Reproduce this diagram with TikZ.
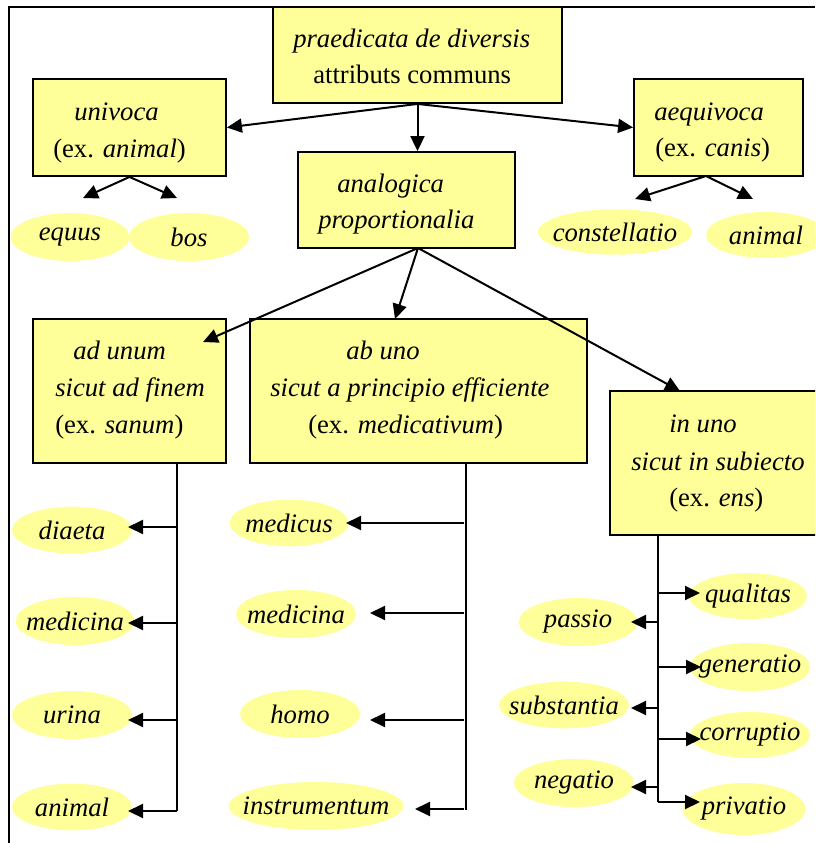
\documentclass[tikz,border=0pt]{standalone}
\usepackage{fontspec}
\setmainfont{Liberation Serif}
\usetikzlibrary{arrows.meta,fit,shapes.geometric}
\definecolor{boxyellow}{HTML}{FFFF99}
\definecolor{ovalyellow}{HTML}{FFFF99}
% zero-width label so the oval keeps its own size
\newcommand\ovtext[1]{\makebox[0pt]{#1}}

\begin{document}
\begin{tikzpicture}[x=0.75pt,y=-0.75pt,
  box/.style={draw=black,line width=1.4pt,fill=boxyellow,inner sep=0pt},
  oval/.style={ellipse,fill=ovalyellow,inner sep=0pt,
    font=\fontsize{20}{24}\selectfont\itshape},
  lbl/.style={anchor=west,inner sep=0pt,text height=14pt,text depth=4pt,
    font=\fontsize{20}{24}\selectfont},
  arr/.style={line width=1.5pt,-{Triangle[length=11.25pt,width=10.5pt]}},
  trunk/.style={line width=1.6pt}]

\useasboundingbox (0,0) rectangle (815,843);
\clip (0,0) rectangle (815,843);

% outer frame (top and left rules)
\draw[line width=1.5pt] (9,843) -- (9,7) -- (815,7);

% boxes
\node[box,fit={(273,7) (562,103)}]   (top) {};
\node[box,fit={(33,79) (226,176)}]   (univoca) {};
\node[box,fit={(634,79) (803,176)}]  (aequivoca) {};
\node[box,fit={(298,152) (515,248)}] (analogica) {};
\node[box,fit={(33,319) (226,463)}]  (adunum) {};
\node[box,fit={(250,319) (587,463)}] (abuno) {};
\node[box,fit={(610,391) (830,535)}] (inuno) {};

% ovals
\node[oval,minimum width=89pt,minimum height=36pt]  (equus) at (70,237) {\ovtext{equus}};
\node[oval,minimum width=90pt,minimum height=36pt]  (bos) at (189,237) {\ovtext{bos}};
\node[oval,minimum width=115.5pt,minimum height=34pt] (constellatio) at (615,232) {\ovtext{constellatio}};
\node[oval,minimum width=90pt,minimum height=34.5pt] (animalR) at (766,235) {\ovtext{animal}};

\node[oval,minimum width=90pt,minimum height=35pt] (diaeta) at (72,530) {\ovtext{diaeta}};
\node[oval,minimum width=89pt,minimum height=36pt] (medicinaL) at (75,621) {\ovtext{medicina}};
\node[oval,minimum width=90pt,minimum height=36pt] (urina) at (72,715) {\ovtext{urina}};
\node[oval,minimum width=90pt,minimum height=35pt] (animalL) at (72,807) {\ovtext{animal}};

\node[oval,minimum width=89pt,minimum height=35pt] (medicus) at (289,523) {\ovtext{medicus}};
\node[oval,minimum width=90pt,minimum height=36pt] (medicinaM) at (296,614) {\ovtext{medicina}};
\node[oval,minimum width=90pt,minimum height=36pt] (homo) at (300,714) {\ovtext{homo}};
\node[oval,minimum width=131pt,minimum height=36pt] (instrumentum) at (316,806) {\ovtext{instrumentum}};

\node[oval,minimum width=88.5pt,minimum height=34.5pt] (qualitas) at (748,596) {\ovtext{qualitas}};
\node[oval,minimum width=90pt,minimum height=36pt] (generatio) at (750,667) {\ovtext{generatio}};
\node[oval,minimum width=90pt,minimum height=34.5pt] (corruptio) at (750,735) {\ovtext{corruptio}};
\node[oval,minimum width=92pt,minimum height=39pt] (privatio) at (744,809) {\ovtext{privatio}};
\node[oval,minimum width=89pt,minimum height=36pt] (passio) at (578,622) {\ovtext{passio}};
\node[oval,minimum width=97.5pt,minimum height=35pt] (substantia) at (564,705) {\ovtext{substantia}};
\node[oval,minimum width=90pt,minimum height=36pt] (negatio) at (574,783) {\ovtext{negatio}};

% connector end points
\coordinate (uvL) at (83,198);
\coordinate (uvR) at (177,198);
\coordinate (aqS) at (706,176);
\coordinate (aqL) at (635,199);
\coordinate (aqR) at (753,199);
\coordinate (anS) at (418,248);
\coordinate (toAd) at (203,342);
\coordinate (toAb) at (395,319);
\coordinate (toIn) at (680,391);

% upper connectors
\draw[arr] (top.south) -- (univoca.east);
\draw[arr] (top.south) -- (aequivoca.west);
\draw[arr] (top.south) -- (top.south |- analogica.north);
\draw[arr] (univoca.south) -- (uvL);
\draw[arr] (univoca.south) -- (uvR);
\draw[arr] (aqS) -- (aqL);
\draw[arr] (aqS) -- (aqR);
\draw[arr] (anS) -- (toAd);
\draw[arr] (anS) -- (toAb);
\draw[arr] (anS) -- (toIn);

% trunk under "ad unum"
\coordinate (t1a) at (177,463);
\coordinate (t1b) at (177,811);
\draw[trunk] (t1a) -- (t1b);
\draw[arr] (177,527) -- (128,527);
\draw[arr] (177,623) -- (128,623);
\draw[arr] (177,720) -- (128,720);
\draw[arr] (t1b) -- (128,811);

% trunk under "ab uno"
\coordinate (t2a) at (466,463);
\coordinate (t2b) at (466,810);
\draw[trunk] (t2a) -- (t2b);
\draw[arr] (464,523) -- (346,523);
\draw[arr] (464,613) -- (370,613);
\draw[arr] (464,720) -- (370,720);
\draw[arr] (464,809) -- (415,809);

% trunk under "in uno"
\coordinate (t3a) at (658,535);
\coordinate (t3b) at (658,802);
\draw[trunk] (t3a) -- (t3b);
\draw[arr] (658,593) -- (700,593);
\draw[arr] (658,667) -- (701,667);
\draw[arr] (658,739) -- (701,739);
\draw[arr] (t3b) -- (700,802);
\draw[arr] (658,622) -- (631,622);
\draw[arr] (658,708) -- (631,708);
\draw[arr] (658,787) -- (631,787);

% box texts
\node[lbl] (t-pr) at (293,41) {\itshape praedicata de diversis};
\node[lbl] (t-at) at (313,77) {attributs communs};
\node[lbl] (t-un) at (74,114) {\itshape univoca};
\node[lbl] (t-una) at (53,151) {(ex. \textit{animal})};
\node[lbl] (t-ae) at (654,114) {\itshape aequivoca};
\node[lbl] (t-aec) at (655,150) {(ex. \textit{canis})};
\node[lbl] (t-an) at (337,186) {\itshape analogica};
\node[lbl] (t-pp) at (318,222) {\itshape proportionalia};
\node[lbl] (t-ad1) at (73,353) {\itshape ad unum};
\node[lbl] (t-ad2) at (55,390) {\itshape sicut ad finem};
\node[lbl] (t-ad3) at (55,427) {(ex. \textit{sanum})};
\node[lbl] (t-ab1) at (346,353) {\itshape ab uno};
\node[lbl] (t-ab2) at (270,390) {\itshape sicut a principio efficiente};
\node[lbl] (t-ab3) at (308,427) {(ex. \textit{medicativum})};
\node[lbl] (t-in1) at (669,426) {\itshape in uno};
\node[lbl] (t-in2) at (631,464) {\itshape sicut in subiecto};
\node[lbl] (t-in3) at (669,500) {(ex. \textit{ens})};
\end{tikzpicture}
\end{document}
